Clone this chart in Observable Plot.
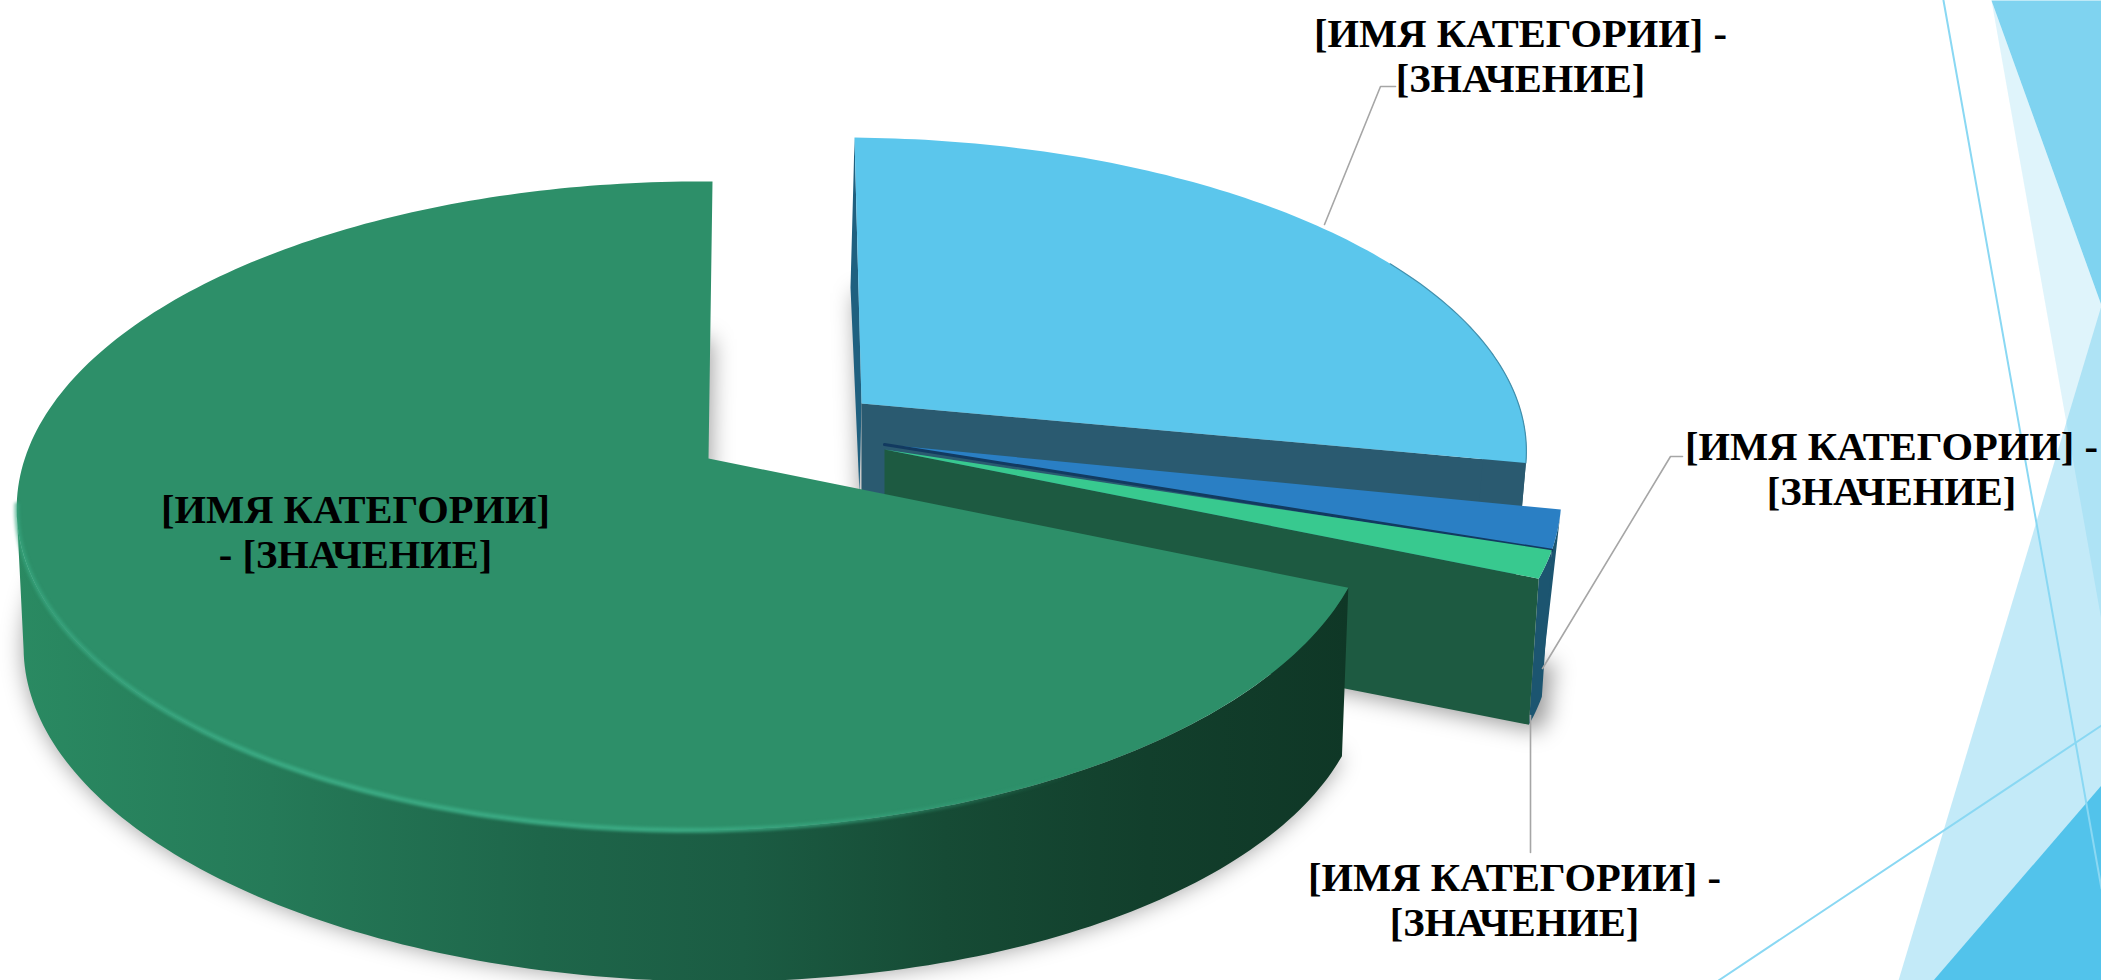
<!DOCTYPE html>
<html lang="ru">
<head>
<meta charset="utf-8">
<title>Chart</title>
<style>
html,body{margin:0;padding:0;background:#fff;overflow:hidden}
svg{display:block}
</style>
<script src="https://cdn.jsdelivr.net/npm/d3@7"></script>
<script src="https://cdn.jsdelivr.net/npm/@observablehq/plot@0.6"></script>
</head>
<body>
<div id="chart"></div>
<script>
// ---------- data ----------
const categories = ["Кат. 1", "Кат. 2", "Кат. 3", "Кат. 4"];
const values = [28.1, 1.9, 1.4, 68.6];
const labelText = "[ИМЯ КАТЕГОРИИ] -\n[ЗНАЧЕНИЕ]";
const labelTextInside = "[ИМЯ КАТЕГОРИИ]\n- [ЗНАЧЕНИЕ]";

// ---------- layout and styles (not data) ----------
const R = 670, RK = 317.4, P = 0.146, Q = 0.02;
const layout = [
  {ax: 861, ay: 403, sx: 1.0,  sy: 0.96, shear: 7,  depth: 150, f: 0.98,  tilt: 0,  face: "#5bc6ec", wall: "#2a5a70"},
  {ax: 884, ay: 444, sx: 1.02, sy: 1.05, shear: 0,  depth: 150, f: 0.975, tilt: 0,  face: "#2a7fc4", wall: "#1c5570"},
  {ax: 884, ay: 449, sx: 1.02, sy: 1.0,  shear: 0,  depth: 148, f: 0.985, tilt: 0,  face: "#38c98f", wall: "#1d5a41"},
  {ax: 708, ay: 458, sx: 1.0,  sy: 1.0,  shear: -4, depth: 155, f: 0.99,  tilt: 16, face: "#2d8f69", wall: "url(#greenWall)"}
];
const labelSpots = [
  {x: 1520, y: 55, text: labelText},
  {x: 1891, y: 468, text: labelText},
  {x: 1514, y: 899, text: labelText},
  {x: 355, y: 531, text: labelTextInside}
];
const leaders = [
  [{x: 1324, y: 224}, {x: 1380, y: 86}, {x: 1395, y: 86}],
  [{x: 1542, y: 668}, {x: 1670, y: 456}, {x: 1682, y: 456}],
  [{x: 1530, y: 715}, {x: 1530, y: 852}]
];
const decorFill = "#52c3eb";
const decorShapes = [
  {o: 0.74, pts: [{x: 1991, y: 0}, {x: 2101, y: 0}, {x: 2101, y: 305}]},
  {o: 0.185, pts: [{x: 1991, y: 0}, {x: 2101, y: 305}, {x: 2101, y: 620}]},
  {o: 0.347, pts: [{x: 2101, y: 305}, {x: 1898, y: 980}, {x: 2101, y: 980}]},
  {o: 1, pts: [{x: 1933, y: 980}, {x: 2101, y: 785}, {x: 2101, y: 980}]}
];
const decorLines = [
  [{x: 1943, y: 0}, {x: 2101, y: 888}],
  [{x: 1718, y: 980}, {x: 2101, y: 725}]
];

// ---------- geometry derived from the values ----------
const slices = d3.pie().sort(null).value(d => d)(values);
const deg = Math.PI / 180;

function pt(i, theta, bottom = false) {
  const L = layout[i], u = Math.sin(theta), v = -Math.cos(theta);
  const s = 1 / (1 - P * v + Q * u);
  const dx = R * u * s * L.sx + L.shear * v, dy = RK * v * s * L.sy;
  return bottom
    ? {x: L.ax + L.f * dx, y: L.ay + L.depth + L.f * dy + L.tilt * u}
    : {x: L.ax + dx, y: L.ay + dy};
}
function arc(i, a0, a1, bottom = false) {
  const n = Math.max(2, Math.ceil(Math.abs(a1 - a0) / deg));
  return d3.range(n + 1).map(k => pt(i, a0 + (a1 - a0) * k / n, bottom));
}
const apex = (i, bottom = false) => ({x: layout[i].ax, y: layout[i].ay + (bottom ? layout[i].depth : 0)});
const faceOf = i => [apex(i), ...arc(i, slices[i].startAngle, slices[i].endAngle)];
const footOf = i => [apex(i, true), ...arc(i, slices[i].startAngle, slices[i].endAngle, true)];
const arcWall = (i, a0, a1) => [...arc(i, a0, a1), ...arc(i, a1, a0, true)];
const radialWall = (i, a) => [apex(i), pt(i, a), pt(i, a, true), apex(i, true)];

const poly = (points, opts) =>
  Plot.line(points, {x: "x", y: "y", curve: "linear-closed", stroke: "none", ...opts});
const path = (points, opts) =>
  Plot.line(points, {x: "x", y: "y", curve: "linear", fill: "none", ...opts});

// gradients referenced by the marks
function defsMark() {
  const g = d3.create("svg:g");
  const defs = g.append("defs");
  const grad = (id, stops) => {
    const lg = defs.append("linearGradient").attr("id", id)
      .attr("gradientUnits", "userSpaceOnUse")
      .attr("x1", 0).attr("x2", 1350).attr("y1", 0).attr("y2", 0);
    stops.forEach(([o, c, a]) => lg.append("stop").attr("offset", o).attr("stop-color", c).attr("stop-opacity", a ?? 1));
  };
  grad("greenWall", [[0.01, "#2a8a62"], [0.2, "#257a58"], [0.4, "#1e664a"], [0.55, "#1b5c43"], [0.7, "#164b35"], [0.85, "#123f2c"], [1, "#0f3726"]]);
  grad("rimGlow", [[0, "#3aa982", 0.6], [0.2, "#3aa982", 1], [0.5, "#3aa982", 1], [0.8, "#3aa982", 0]]);
  return g.node();
}

const a = slices.map(s => [s.startAngle, s.endAngle]);
const blur = "blur(11px)";
const top0 = pt(0, 0);

const marks = [
  defsMark,
  // slide decoration
  ...decorShapes.map(d => poly(d.pts, {fill: decorFill, fillOpacity: d.o})),
  ...decorLines.map(l => path(l, {stroke: "#8ad8f3", strokeWidth: 2})),
  // soft shadows
  poly(footOf(3), {fill: "#000", fillOpacity: 0.38, imageFilter: blur}),
  poly(footOf(0), {fill: "#000", fillOpacity: 0.38, imageFilter: blur}),
  poly([...footOf(1), ...footOf(2).slice(1)].map(p => ({x: p.x + 10, y: p.y + 6})), {fill: "#000", fillOpacity: 0.4, imageFilter: blur}),
  // light-blue slice
  poly([top0, apex(0), {x: apex(0).x - 2, y: apex(0).y + 90}, {x: top0.x - 4, y: top0.y + 150}, {x: top0.x - 1, y: top0.y + 40}], {fill: "#1f607f"}),
  poly(radialWall(0, a[0][1]), {fill: layout[0].wall}),
  poly(arcWall(0, 80 * deg, a[0][1]), {fill: layout[0].wall}),
  poly(faceOf(0), {fill: layout[0].face}),
  path(arc(0, 60 * deg, a[0][1]), {stroke: "#4290ad", strokeWidth: 1.2}),
  // dark-blue and mint slices
  poly(arcWall(1, a[1][0], a[1][1]), {fill: layout[1].wall}),
  poly(arcWall(2, a[2][0], a[2][1]), {fill: layout[1].wall}),
  poly(radialWall(2, a[2][1]), {fill: layout[2].wall}),
  poly(faceOf(1), {fill: layout[1].face}),
  path([apex(1), pt(1, a[1][1])], {stroke: "#123a60", strokeWidth: 3}),
  poly(faceOf(2), {fill: layout[2].face}),
  // large green slice
  poly(arcWall(3, a[3][0], 261 * deg), {fill: layout[3].wall}),
  poly(faceOf(3), {fill: layout[3].face}),
  path(arc(3, 262 * deg, 150 * deg), {stroke: "url(#rimGlow)", strokeWidth: 5, imageFilter: "blur(1.5px)"}),
  // leaders and labels
  ...leaders.map(l => path(l, {stroke: "#a6a6a6", strokeWidth: 1.6})),
  Plot.text(labelSpots, {
    x: "x", y: "y", text: "text",
    fontFamily: "Liberation Serif", fontWeight: 700, fontSize: 40.5, lineHeight: 1.1,
    fill: "#000", textAnchor: "middle", lineAnchor: "middle"
  })
];

const chart = Plot.plot({
  width: 2101, height: 980,
  marginTop: 0, marginRight: 0, marginBottom: 0, marginLeft: 0,
  x: {domain: [0, 2101], range: [0, 2101], axis: null},
  y: {domain: [0, 980], range: [0, 980], axis: null},
  style: {background: "#fff", overflow: "hidden"},
  marks
});
document.getElementById("chart").append(chart);
</script>
</body>
</html>
